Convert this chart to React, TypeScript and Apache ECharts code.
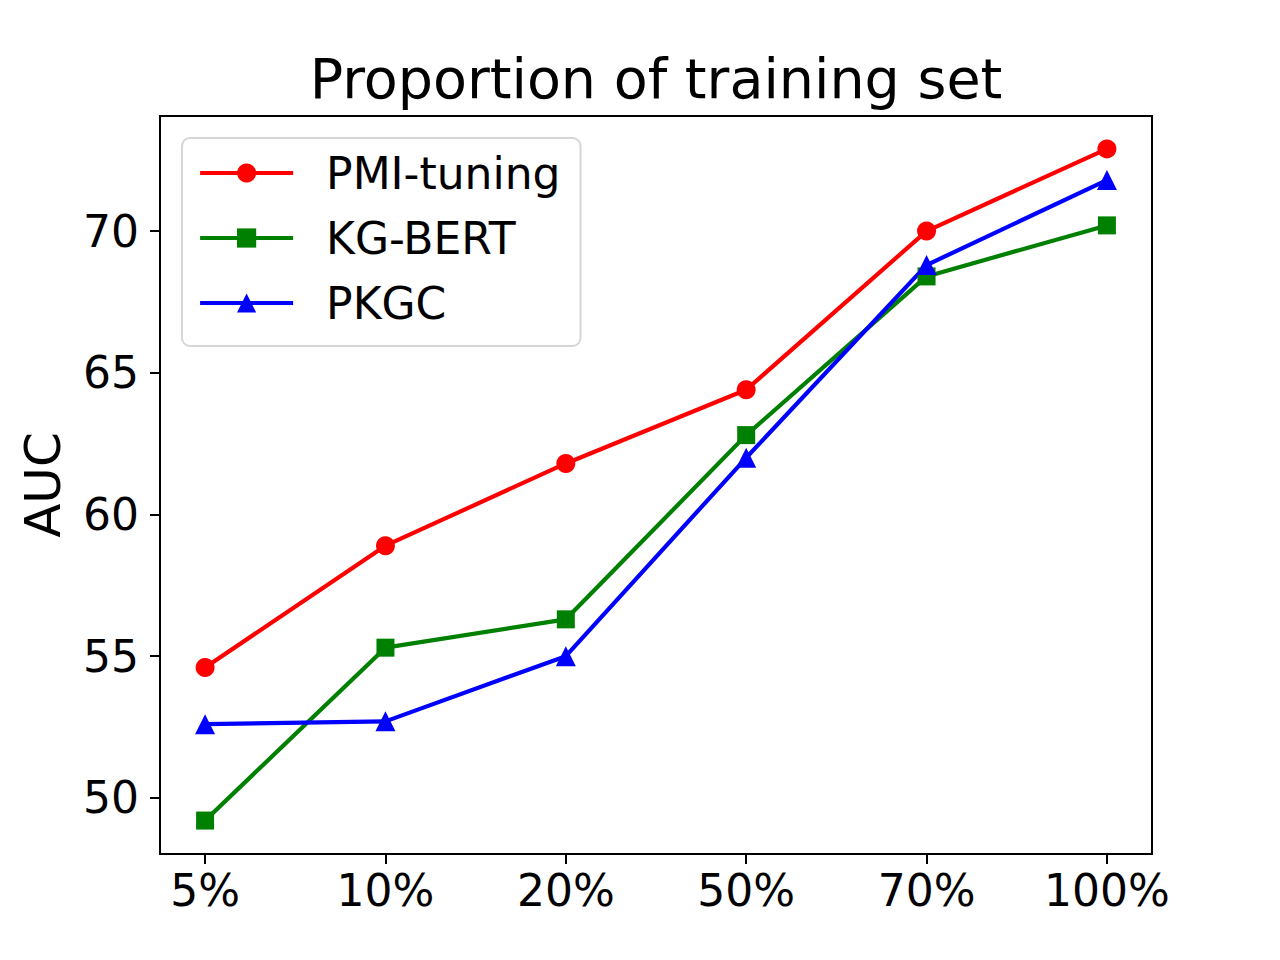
import React, { useEffect, useRef } from "react";
import * as echarts from "echarts";

const categories = ["5%", "10%", "20%", "50%", "70%", "100%"];
const pmiTuning = [54.6, 58.9, 61.8, 64.4, 70.0, 72.9];
const kgBert = [49.2, 55.3, 56.3, 62.8, 68.4, 70.2];
const pkgc = [52.6, 52.7, 55.0, 62.0, 68.8, 71.8];
const yTicks = [50, 55, 60, 65, 70];
const xTicks = categories.map((_, i) => i);

const FONT = "DejaVu Sans";

export default function App() {
  const ref = useRef<HTMLDivElement>(null);
  useEffect(() => {
    if (!ref.current) return;
    const chart = echarts.init(ref.current, undefined, { renderer: "svg" });
    const mk = (name: string, vals: number[], color: string, symbol: string, size: number) => ({
      name,
      type: "line",
      data: vals.map((v, i) => [i, v]),
      symbol,
      symbolSize: size,
      showAllSymbol: true,
      lineStyle: { color, width: 4.2 },
      itemStyle: { color, borderWidth: 0 },
      z: 3,
    });
    chart.setOption({
      animation: false,
      backgroundColor: "#ffffff",
      textStyle: { fontFamily: FONT },
      graphic: [
        {
          type: "text",
          x: 656,
          y: 50,
          style: {
            text: "Proportion of training set",
            fontFamily: FONT,
            fontSize: 55.5,
            fill: "#000",
            textAlign: "center",
            textVerticalAlign: "top",
          },
        },
      ],
      legend: {
        orient: "vertical",
        left: 182,
        top: 138,
        padding: [10, 20, 18, 16],
        itemWidth: 93,
        itemHeight: 24,
        itemGap: 15,
        backgroundColor: "#ffffff",
        borderColor: "#d6d6d6",
        borderWidth: 2,
        borderRadius: 8,
        lineStyle: { width: 4.2 },
        textStyle: { fontFamily: FONT, fontSize: 44, color: "#000", lineHeight: 50, padding: [0, 0, 0, 28] },
        data: ["PMI-tuning", "KG-BERT", "PKGC"],
      },
      grid: {
        left: 160,
        right: 128,
        top: 116,
        bottom: 106,
        show: true,
        borderColor: "#000",
        borderWidth: 2,
        backgroundColor: "transparent",
      },
      xAxis: {
        type: "value",
        min: -0.25,
        max: 5.25,
        splitLine: { show: false },
        axisLine: { show: true, onZero: false, lineStyle: { color: "#000", width: 2 } },
        axisTick: { show: true, length: 10, inside: false, lineStyle: { color: "#000", width: 2 }, customValues: xTicks },
        axisLabel: {
          customValues: xTicks,
          formatter: (v: number) => categories[Math.round(v)] ?? "",
          fontFamily: FONT,
          fontSize: 44,
          color: "#000",
          margin: 14,
        },
      },
      yAxis: {
        type: "value",
        min: 48.02,
        max: 74.06,
        name: "AUC",
        nameLocation: "middle",
        nameRotate: 90,
        nameGap: 92,
        nameTextStyle: { fontFamily: FONT, fontSize: 50, color: "#000" },
        splitLine: { show: false },
        axisLine: { show: true, onZero: false, lineStyle: { color: "#000", width: 2 } },
        axisTick: { show: true, length: 10, inside: false, lineStyle: { color: "#000", width: 2 }, customValues: yTicks },
        axisLabel: {
          customValues: yTicks,
          fontFamily: FONT,
          fontSize: 44,
          color: "#000",
          margin: 21,
        },
      },
      series: [
        mk("PMI-tuning", pmiTuning, "#ff0000", "circle", 19),
        mk("KG-BERT", kgBert, "#008000", "rect", 18),
        mk("PKGC", pkgc, "#0000ff", "triangle", 20),
      ],
    });
    return () => chart.dispose();
  }, []);
  return (
    <div
      ref={ref}
      style={{ position: "fixed", left: 0, top: 0, width: 1280, height: 960, background: "#fff" }}
    />
  );
}
